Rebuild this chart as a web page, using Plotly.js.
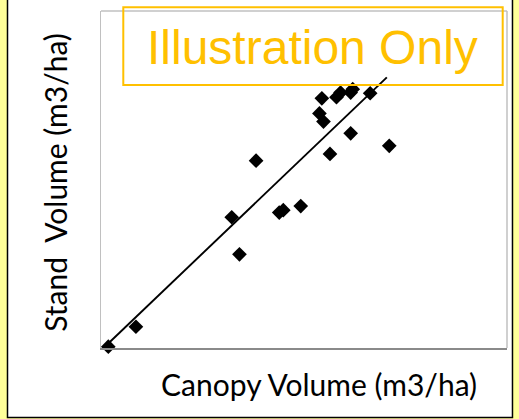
<!DOCTYPE html>
<html>
<head>
<meta charset="utf-8">
<script src="https://cdn.plot.ly/plotly-3.0.1.min.js"></script>
<style>html,body{margin:0;padding:0;background:#FFFF99;}#chart{width:519px;height:419px;}</style>
</head>
<body>
<div id="chart"></div>
<script>
// Canopy volume vs stand volume (relative units, axes carry no tick labels)
var canopyVolume = [1.8, 8.6, 32.2, 34.1, 38.2, 43.9, 44.9, 49.2, 53.8, 54.8, 54.4, 56.4, 58.0, 59.0, 61.5, 62.0, 61.5, 66.3, 71.0];
var standVolume  = [0.4, 6.3, 38.8, 27.8, 55.6, 40.2, 40.9, 42.1, 69.6, 67.2, 74.1, 57.6, 74.4, 75.8, 75.8, 76.8, 63.7, 75.6, 60.0];
// Linear trend line end points
var trendX = [1.4, 70.4];
var trendY = [0.9, 80.3];

var xTitle = "Canopy Volume (m3/ha)";
var yTitle = "Stand\u00a0 Volume (m3/ha)";
var stamp = "Illustration Only";

var data = [
  {x: trendX, y: trendY, type: 'scatter', mode: 'lines', line: {color: '#000000', width: 1.9}, hoverinfo: 'skip', showlegend: false},
  {x: canopyVolume, y: standVolume, type: 'scatter', mode: 'markers', cliponaxis: false,
   marker: {symbol: 'diamond', size: 11.3, color: '#000000'}, showlegend: false}
];

var layout = {
  width: 519, height: 419,
  margin: {l: 101, r: 12, t: 11, b: 71, pad: 0},
  paper_bgcolor: '#FFFF99',
  plot_bgcolor: '#FFFFFF',
  showlegend: false,
  xaxis: {range: [0, 100], showgrid: false, zeroline: false, showticklabels: false, ticks: '',
          showline: true, linecolor: '#8A8A8A', linewidth: 1.5, fixedrange: true},
  yaxis: {range: [0, 100], showgrid: false, zeroline: false, showticklabels: false, ticks: '',
          showline: true, linecolor: '#C0C0C0', linewidth: 1.5, fixedrange: true},
  shapes: [
    {type: 'rect', layer: 'below', xref: 'paper', yref: 'paper',
     x0: -0.2303, x1: 1.0135, y0: -0.2062, y1: 1.06,
     fillcolor: '#FFFFFF', line: {color: '#000000', width: 1.5}},
    {type: 'line', xref: 'paper', yref: 'paper', x0: 0, x1: 1, y0: 1, y1: 1, line: {color: '#C0C0C0', width: 1.5}},
    {type: 'line', xref: 'paper', yref: 'paper', x0: 1, x1: 1, y0: 0, y1: 1, line: {color: '#C0C0C0', width: 1.5}},
    {type: 'rect', xref: 'paper', yref: 'paper', x0: 0.0549, x1: 0.9894, y0: 0.7804, y1: 1.011,
     fillcolor: 'rgba(0,0,0,0)', line: {color: '#FFC000', width: 2}}
  ],
  annotations: [
    {text: stamp, xref: 'paper', yref: 'paper', x: 0.522, y: 0.893, xanchor: 'center', yanchor: 'middle',
     showarrow: false, font: {family: 'Liberation Sans, Arial, sans-serif', size: 48, color: '#FFC000'}},
    {text: xTitle, xref: 'paper', yref: 'paper', x: 0.536, y: -0.107, xanchor: 'center', yanchor: 'middle',
     showarrow: false, font: {family: 'Lato, sans-serif', size: 30, color: '#000000'}},
    {text: yTitle, xref: 'paper', yref: 'paper', x: -0.115, y: 0.491, xanchor: 'center', yanchor: 'middle',
     textangle: -90, showarrow: false, font: {family: 'Lato, sans-serif', size: 30, color: '#000000'}}
  ]
};

Plotly.newPlot('chart', data, layout, {staticPlot: true, displayModeBar: false});
</script>
</body>
</html>
